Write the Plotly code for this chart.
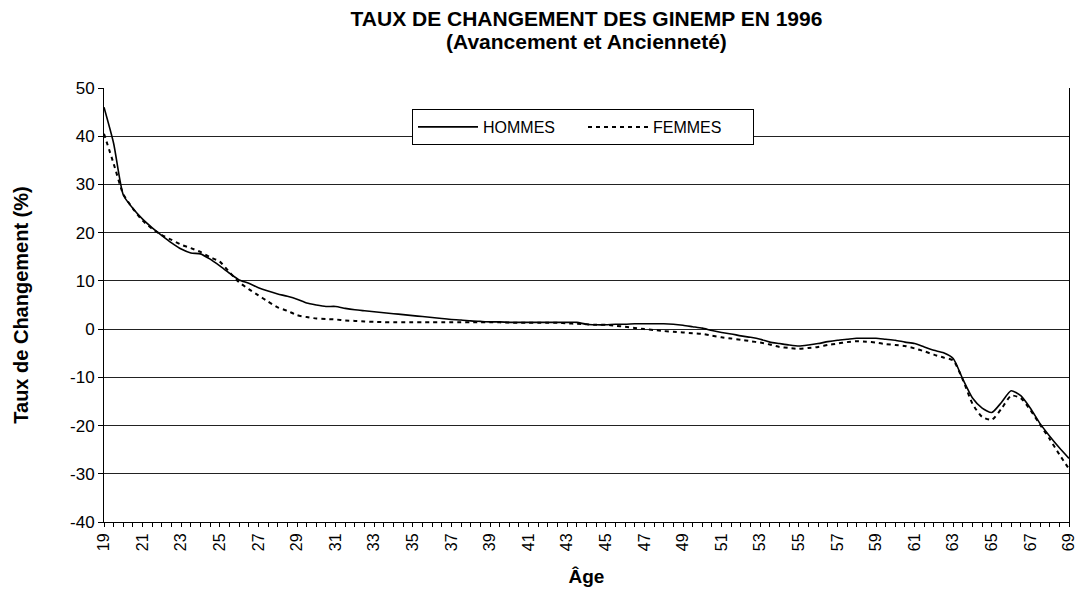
import plotly.graph_objects as go

ages = [19 + 0.5 * i for i in range(101)]

hommes = [
    46.0, 38.5, 27.8, 25.0, 22.8, 21.0, 19.4, 17.9, 16.6, 15.8,
    15.6, 14.5, 13.1, 11.6, 10.2, 9.5, 8.6, 7.9, 7.3, 6.8,
    6.2, 5.4, 5.0, 4.7, 4.7, 4.3, 4.0, 3.8, 3.6, 3.4,
    3.2, 3.0, 2.8, 2.6, 2.4, 2.2, 2.0, 1.9, 1.7, 1.6,
    1.5, 1.5, 1.4, 1.4, 1.4, 1.4, 1.4, 1.4, 1.4, 1.4,
    1.0, 0.9, 0.9, 1.0, 1.0, 1.1, 1.1, 1.1, 1.1, 1.0,
    0.8, 0.5, 0.2, -0.3, -0.7, -1.0, -1.4, -1.7, -2.1, -2.7,
    -3.0, -3.3, -3.5, -3.3, -3.0, -2.6, -2.3, -2.1, -1.9, -1.9,
    -1.9, -2.1, -2.3, -2.7, -3.0, -3.7, -4.4, -4.9, -6.1, -10.4,
    -14.3, -16.4, -17.3, -15.2, -12.8, -13.8, -16.4, -19.6, -22.2, -24.6,
    -26.8,
]

femmes = [
    40.5, 34.3, 28.0, 25.0, 22.5, 20.8, 19.5, 18.5, 17.5, 16.8,
    16.0, 14.9, 14.0, 11.8, 9.7, 8.3, 7.0, 5.7, 4.5, 3.8,
    2.9, 2.5, 2.2, 2.1, 2.0, 1.8, 1.7, 1.6, 1.5, 1.45,
    1.4, 1.4, 1.4, 1.4, 1.4, 1.4, 1.4, 1.4, 1.4, 1.4,
    1.4, 1.4, 1.35, 1.3, 1.3, 1.3, 1.3, 1.3, 1.2, 1.1,
    1.0, 0.9, 0.9, 0.7, 0.5, 0.25, 0.0, -0.2, -0.4, -0.55,
    -0.7, -0.85, -1.0, -1.35, -1.7, -1.95, -2.2, -2.5, -2.8, -3.2,
    -3.7, -3.9, -4.1, -3.9, -3.7, -3.3, -3.0, -2.7, -2.5, -2.6,
    -2.8, -3.1, -3.3, -3.5, -4.0, -4.6, -5.3, -5.9, -6.5, -10.5,
    -15.5, -18.2, -18.8, -16.5, -13.8, -14.3, -16.8, -19.8, -22.8, -26.0,
    -29.0,
]

x_tick_vals = list(range(19, 70, 2))
x_tick_text = [str(v) for v in x_tick_vals]
y_tick_vals = list(range(-40, 51, 10))
y_tick_text = [str(v) for v in y_tick_vals]

title_line1 = "TAUX DE CHANGEMENT DES GINEMP EN 1996"
title_line2 = "(Avancement et Ancienneté)"
x_title = "Âge"
y_title = "Taux de Changement (%)"
series_names = ["HOMMES", "FEMMES"]

FONT = "Liberation Sans, Arial, sans-serif"

fig = go.Figure()
fig.add_trace(go.Scatter(
    x=ages, y=hommes, name=series_names[0], mode="lines",
    line=dict(color="black", width=1.6, shape="spline", smoothing=0.6),
))
fig.add_trace(go.Scatter(
    x=ages, y=femmes, name=series_names[1], mode="lines",
    line=dict(color="black", width=2, dash="4px,4px", shape="spline", smoothing=0.6),
))

fig.update_layout(
    width=1079, height=590,
    margin=dict(l=104, r=10, t=88, b=68),
    paper_bgcolor="white", plot_bgcolor="white",
    font=dict(family=FONT, color="black", size=17),
    title=dict(
        text="<b>" + title_line1 + "</b>",
        x=0.5, xref="paper", xanchor="center",
        y=1 - 19 / 590, yref="container", yanchor="middle",
        font=dict(family=FONT, size=21, color="black"),
    ),
    annotations=[dict(
        text="<b>" + title_line2 + "</b>",
        x=0.5, xref="paper", xanchor="center",
        y=1 + (88 - 42) / 434, yref="paper", yanchor="middle",
        showarrow=False, font=dict(family=FONT, size=21, color="black"),
    )],
    showlegend=True,
    legend=dict(
        orientation="h",
        x=(412 - 104) / 965, xanchor="left",
        y=(522 - 109) / 434, yanchor="top",
        bgcolor="white", bordercolor="black", borderwidth=1,
        font=dict(family=FONT, size=16, color="black"),
        itemwidth=60, entrywidth=95,
    ),
    xaxis=dict(
        range=[19, 69], automargin=False,
        tickmode="array", tickvals=x_tick_vals, ticktext=x_tick_text,
        tickangle=-90, ticklabeloverflow="allow",
        ticks="outside", ticklen=4, tickwidth=1, tickcolor="black",
        showline=True, linecolor="black", linewidth=1,
        showgrid=False, zeroline=False,
        minor=dict(dtick=0.5, tick0=19, ticks="outside", ticklen=4, tickcolor="black", showgrid=False),
        title=dict(text="<b>" + x_title + "</b>", standoff=19,
                   font=dict(family=FONT, size=19, color="black")),
        tickfont=dict(family=FONT, size=16, color="black"),
    ),
    xaxis2=dict(
        overlaying="x", matches="x", range=[19, 69], automargin=False,
        tickmode="array", tickvals=x_tick_vals,
        ticks="inside", ticklen=4, tickwidth=1, tickcolor="black",
        showticklabels=False, showgrid=False, showline=False, zeroline=False,
        minor=dict(dtick=0.5, tick0=19, ticks="inside", ticklen=4, tickcolor="black", showgrid=False),
    ),
    yaxis=dict(
        range=[-40, 50], automargin=False,
        tickmode="array", tickvals=y_tick_vals, ticktext=y_tick_text,
        ticks="outside", ticklen=5, tickcolor="black",
        showline=True, linecolor="black", linewidth=1, mirror=True,
        showgrid=True, gridcolor="#222", gridwidth=1, zeroline=False,
        title=dict(text="<b>" + y_title + "</b>", standoff=36,
                   font=dict(family=FONT, size=20, color="black")),
        tickfont=dict(family=FONT, size=17, color="black"),
    ),
)

fig.write_html(
    "out.html",
    config={"displayModeBar": False},
    post_script="document.body.style.margin='0';document.body.style.overflow='hidden';",
)
